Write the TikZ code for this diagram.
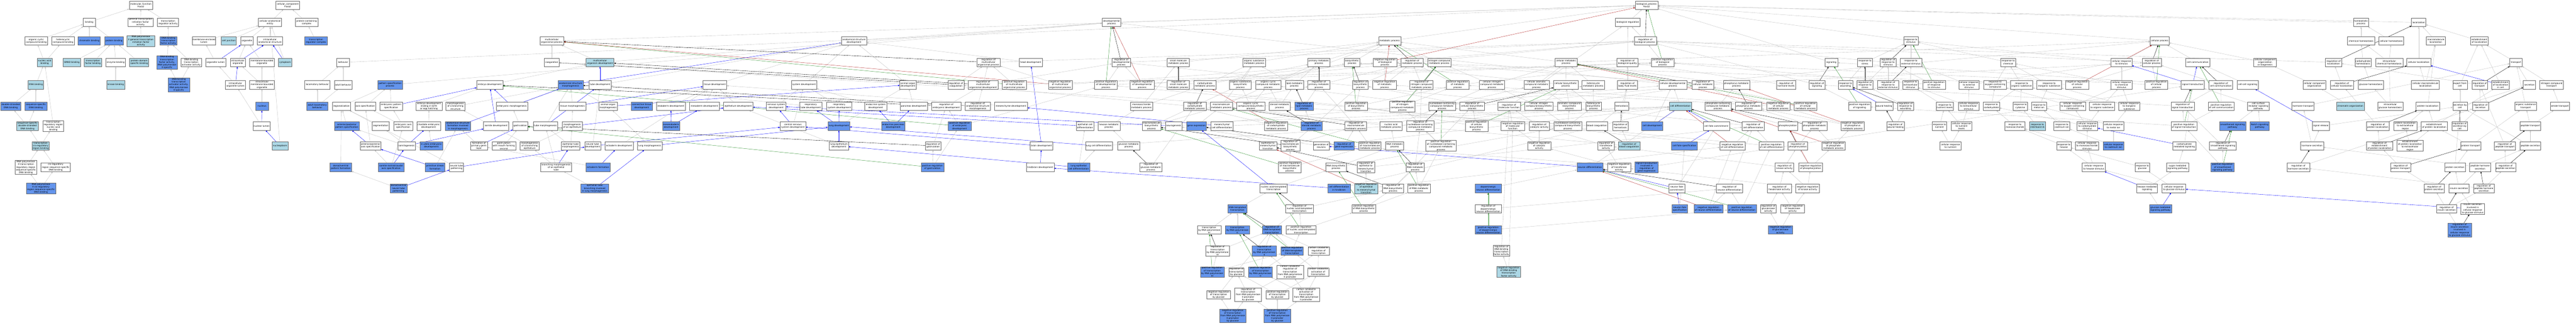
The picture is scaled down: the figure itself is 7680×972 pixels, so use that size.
\documentclass[tikz,border=0pt]{standalone}
\usepackage{fontspec}
\newfontfamily\gofamily{DejaVu Sans}
\usetikzlibrary{arrows.meta}
\pgfdeclarelayer{paper}
\pgfdeclarelayer{bg}
\pgfsetlayers{paper,bg,main}
\definecolor{cblue}{HTML}{6495ED}
\definecolor{lblue}{HTML}{ADD8E6}
\definecolor{egray}{HTML}{C0C0C0}
\definecolor{eblue}{HTML}{0000FF}
\definecolor{egreen}{HTML}{228B22}
\definecolor{ered}{HTML}{B22222}
\newcommand\GN[6]{\node[#1,minimum width=#5pt] (#2) at (#3,#4) {#6};}
\newcommand\GE[3]{\draw[#1] (#2) -- (#3);}
\tikzset{
  gn/.style={draw=black!60,line width=0.8pt,rectangle,align=center,inner xsep=1pt,inner ysep=1pt,minimum height=25pt,font={\gofamily\fontsize{6.6}{8}\selectfont},text=black},
  nwh/.style={gn,fill=white},
  ncb/.style={gn,fill=cblue},
  nlb/.style={gn,fill=lblue},
  ebase/.style={line width=0.6pt,-{Triangle[length=5pt,width=4pt]}},
  eg/.style={ebase,draw=egray},
  eb/.style={ebase,draw=eblue},
  ek/.style={ebase,draw=black},
  en/.style={ebase,draw=egreen},
  er/.style={ebase,draw=ered}
}
\begin{document}
\begin{tikzpicture}[x=1pt,y=-1pt]
\begin{pgfonlayer}{paper}
\fill[white] (0,0) rectangle (7680,972);
\end{pgfonlayer}
\path[use as bounding box] (0,0) rectangle (7680,972);
% ---------------- molecular function
\GN{nwh}{mf}{420}{15.5}{69}{molecular\_function\\Foxa2}
\GN{nwh}{bind}{266}{66}{38}{binding}
\GN{nwh}{gtif}{419}{66}{74}{general transcription\\initiation factor\\activity}
\GN{nwh}{tra}{501}{67}{63}{transcription\\regulator activity}
\GN{nwh}{occb}{108}{122}{67}{organic cyclic\\compound binding}
\GN{nwh}{hcb}{188}{122}{67}{heterocyclic\\compound binding}
\GN{ncb}{chb}{266}{122}{66}{chromatin binding}
\GN{ncb}{pb}{340}{122}{55}{protein binding}
\GN{nlb}{rpgt}{420}{122}{82}{RNA polymerase\\II general transcription\\initiation factor\\activity}
\GN{ncb}{dbtf}{502}{122}{51}{DNA-binding\\transcription\\factor activity}
\GN{nwh}{mel}{608}{122}{70}{membrane-enclosed\\lumen}
\GN{nlb}{nab}{133}{186}{44}{nucleic acid\\binding}
\GN{nlb}{smad}{214}{186}{51}{SMAD binding}
\GN{nlb}{tfb}{277}{186}{51}{transcription\\factor binding}
\GN{nwh}{enzb}{345}{186}{58}{enzyme binding}
\GN{nlb}{pdsb}{415}{186}{57}{protein domain\\specific binding}
\GN{ncb}{dbtf2}{498}{186}{61}{DNA-binding\\transcription\\factor activity,\\RNA polymerase\\II-specific}
\GN{nwh}{dbta}{570}{186}{62}{DNA-binding\\transcription\\activator activity}
\GN{nwh}{orgl}{643}{186}{60}{organelle lumen}
\GN{nlb}{dnab}{107}{253}{46}{DNA binding}
\GN{nlb}{kinb}{345}{253}{53}{kinase binding}
\GN{ncb}{dbta2}{533}{253}{64}{DNA-binding\\transcription\\activator activity,\\RNA polymerase\\II-specific}
\GN{ncb}{dsdb}{32}{317}{60}{double-stranded\\DNA binding}
\GN{ncb}{ssdb}{107}{317}{65}{sequence-specific\\DNA binding}
\GN{nlb}{ssds}{82}{376}{65}{sequence-specific\\double-stranded\\DNA binding}
\GN{nwh}{trrn}{159}{376}{62}{transcription\\regulatory region\\nucleic acid\\binding}
\GN{nlb}{tcrb}{121}{435}{52}{transcription\\cis-regulatory\\region binding}
\GN{nwh}{rp2t}{77}{499}{65}{RNA polymerase\\II transcription\\regulatory region\\sequence-specific\\DNA binding}
\GN{nwh}{crss}{166}{499}{88}{cis-regulatory\\region sequence-specific\\DNA binding}
\GN{ncb}{rp2c}{122}{562}{88}{RNA polymerase\\II cis-regulatory\\region sequence-specific\\DNA binding}
% ---------------- cellular component
\GN{nwh}{cc}{858}{15.5}{71}{cellular\_component\\Foxa2}
\GN{nwh}{cae}{805}{67}{69}{cellular anatomical\\entity}
\GN{nwh}{pcc}{914}{67}{67}{protein-containing\\complex}
\GN{nlb}{cj}{682}{122}{45}{cell junction}
\GN{nwh}{org}{736}{122}{38}{organelle}
\GN{nwh}{ias}{805}{122}{75}{intracellular\\anatomical structure}
\GN{ncb}{trc}{942}{122}{67}{transcription\\regulator complex}
\GN{nwh}{io}{709}{186}{44}{intracellular\\organelle}
\GN{nwh}{mbo}{781}{186}{74}{membrane-bounded\\organelle}
\GN{nlb}{cyto}{850}{186}{40}{cytoplasm}
\GN{nwh}{iol}{702}{253}{60}{intracellular\\organelle lumen}
\GN{nwh}{imbo}{781}{253}{74}{intracellular\\membrane-bounded\\organelle}
\GN{ncb}{nuc}{781}{317}{38}{nucleus}
\GN{nwh}{nl}{780}{376}{52}{nuclear lumen}
\GN{nlb}{np}{835}{435}{47}{nucleoplasm}
% ---------------- behaviour, pattern
\GN{nwh}{beh}{1023}{186}{39}{behavior}
\GN{nwh}{lb}{946}{253}{75}{locomotory behavior}
\GN{nwh}{ab}{1023}{253}{53}{adult behavior}
\GN{ncb}{psp}{1163}{253}{73}{pattern specification\\process}
\GN{ncb}{alb}{946}{317}{62}{adult locomotory\\behavior}
\GN{nwh}{reg}{1018}{317}{54}{regionalization}
\GN{nwh}{axs}{1089}{317}{62}{axis specification}
\GN{nwh}{eps}{1166}{317}{67}{embryonic pattern\\specification}
\GN{nwh}{edeb}{1279}{317}{78}{embryo development\\ending in birth\\or egg hatching}
\GN{ncb}{apps}{1034}{376}{73}{anterior/posterior\\pattern specification}
\GN{nwh}{seg}{1135}{376}{50}{segmentation}
\GN{nwh}{eas}{1202}{376}{56}{embryonic axis\\specification}
\GN{nwh}{ced}{1278}{376}{71}{chordate embryonic\\development}
\GN{nwh}{apas}{1105}{435}{62}{anterior/posterior\\axis specification}
\GN{nwh}{somg}{1212}{435}{53}{somitogenesis}
\GN{ncb}{iued}{1286}{435}{68}{in utero embryonic\\development}
\GN{ncb}{dvpf}{1016}{499}{64}{dorsal/ventral\\pattern formation}
\GN{ncb}{srca}{1166}{499}{76}{somite rostral/caudal\\axis specification}
\GN{ncb}{psf}{1297}{499}{58}{primitive streak\\formation}
\GN{ncb}{dvnt}{1188}{562}{51}{dorsal/ventral\\neural tube\\patterning}
% ---------------- development
\GN{nwh}{mop}{1645}{122}{71}{multicellular\\organismal process}
\GN{nwh}{coag}{1645}{186}{44}{coagulation}
\GN{nlb}{mod}{1789}{186}{83}{multicellular\\organism development}
\GN{nwh}{ed}{1460}{253}{78}{embryo development}
\GN{ncb}{asm}{1701}{253}{75}{anatomical structure\\morphogenesis}
\GN{nwh}{td}{1789}{253}{66}{tube development}
\GN{nwh}{mbs}{1358}{317}{57}{morphogenesis\\of a branching\\structure}
\GN{nwh}{em}{1526}{317}{93}{embryonic morphogenesis}
\GN{nwh}{tm}{1707}{317}{79}{tissue morphogenesis}
\GN{nwh}{aom}{1813}{317}{56}{animal organ\\morphogenesis}
\GN{ncb}{ctd}{1913}{317}{63}{connective tissue\\development}
\GN{ncb}{asf}{1365}{376}{74}{anatomical structure\\formation involved\\in morphogenesis}
\GN{nwh}{sd}{1479}{376}{75}{somite development}
\GN{nwh}{gast}{1551}{376}{44}{gastrulation}
\GN{nwh}{tubm}{1626}{376}{73}{tube morphogenesis}
\GN{nwh}{moe}{1706}{376}{60}{morphogenesis\\of an epithelium}
\GN{nwh}{fpgl}{1428}{435}{50}{formation of\\primary germ\\layer}
\GN{nwh}{gmfs}{1502}{435}{71}{gastrulation\\with mouth forming\\second}
\GN{nwh}{mbe}{1579}{435}{57}{morphogenesis\\of a branching\\epithelium}
\GN{nwh}{etm}{1701}{435}{56}{epithelial tube\\morphogenesis}
\GN{nwh}{ntd}{1767}{435}{48}{neural tube\\development}
\GN{nwh}{ecd}{1846}{435}{84}{ectoderm development}
\GN{nwh}{lm}{1937}{435}{74}{lung morphogenesis}
\GN{nwh}{ntp}{1361}{499}{42}{neural tube\\patterning}
\GN{nwh}{bmet}{1658}{499}{92}{branching morphogenesis\\of an epithelial\\tube}
\GN{ncb}{ecf}{1783}{499}{72}{ectoderm formation}
\GN{ncb}{etbl}{1773}{562}{82}{epithelial tube\\branching involved\\in lung morphogenesis}
\GN{nwh}{asd}{2546}{122}{75}{anatomical structure\\development}
\GN{nwh}{tisd}{2131}{253}{71}{tissue development}
\GN{nwh}{sysd}{2397}{253}{76}{system development}
\GN{nwh}{endd}{2000}{317}{86}{endoderm development}
\GN{nwh}{mesd}{2100}{317}{88}{mesoderm development}
\GN{nwh}{epid}{2201}{317}{88}{epithelium development}
\GN{nwh}{nsd}{2314}{317}{58}{nervous system\\development}
\GN{nwh}{rtd}{2417}{317}{66}{respiratory\\tube development}
\GN{nwh}{rsd}{2502}{317}{76}{respiratory\\system development}
\GN{ncb}{mendd}{2001}{376}{52}{mesendoderm\\development}
\GN{nwh}{cnsd}{2364}{376}{76}{central nervous\\system development}
\GN{ncb}{ld}{2501}{376}{65}{lung development}
\GN{nwh}{led}{2501}{435}{57}{lung epithelium\\development}
\GN{nwh}{devp}{3314}{67}{55}{developmental\\process}
\GN{nwh}{rmop}{2947}{186}{70}{regulation of\\multicellular\\organismal process}
\GN{nwh}{hd}{3073}{186}{68}{head development}
\GN{nwh}{aod}{2707}{253}{49}{animal organ\\development}
\GN{nwh}{rcoag}{2850}{253}{47}{regulation of\\coagulation}
\GN{nwh}{rmod}{2931}{253}{89}{regulation of\\multicellular\\organismal development}
\GN{nwh}{prmop}{3024}{253}{71}{positive regulation\\of multicellular\\organismal process}
\GN{nwh}{nrmop}{3161}{253}{71}{negative regulation\\of multicellular\\organismal process}
\GN{nwh}{prdp}{3297}{253}{67}{positive regulation\\of developmental\\process}
\GN{nwh}{esd}{2611}{317}{65}{endocrine system\\development}
\GN{nwh}{pand}{2724}{317}{82}{pancreas development}
\GN{nwh}{red}{2821}{317}{87}{regulation of\\embryonic development}
\GN{nwh}{rasm}{2915}{317}{75}{regulation of\\anatomical structure\\morphogenesis}
\GN{nwh}{mesch}{3014}{317}{98}{mesenchyme development}
\GN{ncb}{epd}{2663}{376}{70}{endocrine pancreas\\development}
\GN{ncb}{pred}{2861}{376}{68}{positive regulation\\of embryonic\\development}
\GN{nwh}{ecd2}{3235}{376}{53}{epithelial cell\\differentiation}
\GN{nwh}{hexmp}{3306}{376}{66}{hexose metabolic\\process}
\GN{nwh}{rgast}{2782}{435}{47}{regulation of\\gastrulation}
\GN{nwh}{bd}{3105}{435}{68}{brain development}
\GN{nwh}{lcd}{3276}{435}{80}{lung cell differentiation}
\GN{ncb}{prgast}{2780}{499}{68}{positive regulation\\of gastrulation}
\GN{nwh}{hbd}{3101}{499}{83}{hindbrain development}
\GN{ncb}{lecd}{3216}{499}{66}{lung epithelial\\cell differentiation}
% ---------------- metabolism
\GN{nwh}{rdp}{3343}{186}{56}{regulation of\\developmental\\process}
\GN{nwh}{smmp}{3513}{186}{66}{small molecule\\metabolic process}
\GN{nwh}{osmp}{3739}{186}{67}{organic substance\\metabolic process}
\GN{nwh}{pmp}{3932}{186}{66}{primary metabolic\\process}
\GN{nwh}{nrdp}{3405}{253}{71}{negative regulation\\of developmental\\process}
\GN{nwh}{rsmmp}{3513}{253}{66}{regulation of\\small molecule\\metabolic process}
\GN{nwh}{cmp}{3592}{253}{66}{carbohydrate\\metabolic process}
\GN{nwh}{osbp}{3698}{253}{65}{organic substance\\biosynthetic\\process}
\GN{nwh}{occmp}{3781}{253}{75}{organic cyclic\\compound metabolic\\process}
\GN{nwh}{lmp}{3859}{253}{54}{lipid metabolic\\process}
\GN{nwh}{rpmp}{3932}{253}{66}{regulation of\\primary metabolic\\process}
\GN{nwh}{msmp}{3403}{317}{66}{monosaccharide\\metabolic process}
\GN{nwh}{rcmp}{3562}{317}{67}{regulation of\\carbohydrate\\metabolic process}
\GN{nwh}{mmp}{3641}{317}{66}{macromolecule\\metabolic process}
\GN{nwh}{occbp}{3729}{317}{84}{organic cyclic\\compound biosynthetic\\process}
\GN{nwh}{stmp}{3815}{317}{63}{steroid metabolic\\process}
\GN{ncb}{rlmp}{3888}{317}{54}{regulation of\\lipid metabolic\\process}
\GN{nwh}{mbp}{3433}{376}{56}{macromolecule\\biosynthetic\\process}
\GN{nwh}{neurog}{3499}{376}{49}{neurogenesis}
\GN{ncb}{ge}{3567}{376}{59}{gene expression}
\GN{nwh}{mcd}{3643}{376}{65}{mesenchymal\\cell differentiation}
\GN{nwh}{nrcmp}{3804}{376}{70}{negative regulation\\of carbohydrate\\metabolic process}
\GN{ncb}{rstmp}{3910}{376}{63}{regulation of\\steroid metabolic\\process}
\GN{nwh}{gmp}{3365}{435}{66}{glucose metabolic\\process}
\GN{nwh}{emt}{3780}{435}{52}{epithelial to\\mesenchymal\\transition}
\GN{nwh}{rmbp}{3847}{435}{56}{regulation of\\macromolecule\\biosynthetic\\process}
\GN{nwh}{gon}{3939}{435}{48}{generation of\\neurons}
\GN{ncb}{rge}{4007}{435}{60}{regulation of\\gene expression}
\GN{nwh}{rgmp}{3431}{499}{66}{regulation of\\glucose metabolic\\process}
\GN{nwh}{prmbp}{3845}{499}{68}{positive regulation\\of macromolecule\\biosynthetic\\process}
\GN{nwh}{rnabp}{3983}{499}{62}{RNA biosynthetic\\process}
\GN{ncb}{cdh}{3992}{562}{67}{cell differentiation\\in hindbrain}
\GN{nwh}{nat}{3797}{562}{81}{nucleic acid-templated\\transcription}
\GN{ncb}{dtt}{3689}{623}{57}{DNA-templated\\transcription}
\GN{nwh}{rnat}{3874}{623}{82}{regulation of\\nucleic acid-templated\\transcription}
\GN{nwh}{t3}{3605}{686}{71}{transcription\\by RNA polymerase\\III}
\GN{ncb}{t2}{3689}{686}{71}{transcription\\by RNA polymerase\\II}
\GN{ncb}{rdt}{3792}{686}{56}{regulation of\\DNA-templated\\transcription}
\GN{nwh}{prnat}{3879}{686}{90}{positive regulation\\of nucleic acid-templated\\transcription}
\GN{nwh}{rt3}{3630}{748}{71}{regulation of\\transcription\\by RNA polymerase\\III}
\GN{ncb}{rt2}{3769}{748}{71}{regulation of\\transcription\\by RNA polymerase\\II}
\GN{ncb}{prdt}{3852}{748}{66}{positive regulation\\of DNA-templated\\transcription}
\GN{nwh}{ccrt}{3931}{748}{63}{carbon catabolite\\regulation of\\transcription}
\GN{ncb}{prt3}{3614}{811}{71}{positive regulation\\of transcription\\by RNA polymerase\\III}
\GN{nwh}{rtg}{3686}{811}{46}{regulation of\\transcription\\by glucose}
\GN{ncb}{prt2}{3758}{811}{71}{positive regulation\\of transcription\\by RNA polymerase\\II}
\GN{nwh}{ccrp}{3846}{811}{80}{carbon catabolite\\regulation of\\transcription\\from RNA polymerase\\II promoter}
\GN{nwh}{ccat}{3930}{811}{63}{carbon catabolite\\activation of\\transcription}
\GN{nwh}{nrtg}{3633}{879}{70}{negative regulation\\of transcription\\by glucose}
\GN{nwh}{rtpg}{3721}{879}{80}{regulation of\\transcription\\from RNA polymerase\\II promoter\\by glucose}
\GN{nwh}{prtg}{3808}{879}{68}{positive regulation\\of transcription\\by glucose}
\GN{nwh}{ccap}{3894}{879}{80}{carbon catabolite\\activation of\\transcription\\from RNA polymerase\\II promoter}
\GN{ncb}{nrtpg}{3675}{942}{79}{negative regulation\\of transcription\\from RNA polymerase\\II promoter\\by glucose}
\GN{ncb}{prtpg}{3808}{942}{79}{positive regulation\\of transcription\\from RNA polymerase\\II promoter\\by glucose}
\GN{nwh}{metp}{4143}{122}{66}{metabolic process}
\GN{nwh}{bsp}{4031}{186}{46}{biosynthetic\\process}
\GN{nwh}{nrbp}{4129}{186}{70}{negative regulation\\of biological\\process}
\GN{nwh}{rmp}{4210}{186}{66}{regulation of\\metabolic process}
\GN{nwh}{ncmp}{4291}{186}{69}{nitrogen compound\\metabolic process}
\GN{nwh}{cellmp}{4669}{186}{65}{cellular metabolic\\process}
\GN{nwh}{rbsp}{4056}{253}{46}{regulation of\\biosynthetic\\process}
\GN{nwh}{nrmp}{4128}{253}{70}{negative regulation\\of metabolic\\process}
\GN{nwh}{rncmp}{4238}{253}{69}{regulation of\\nitrogen compound\\metabolic process}
\GN{nwh}{prmp}{4346}{253}{68}{positive regulation\\of metabolic\\process}
\GN{nwh}{cncmp}{4448}{253}{75}{cellular nitrogen\\compound metabolic\\process}
\GN{nwh}{cacmp}{4581}{253}{75}{cellular aromatic\\compound metabolic\\process}
\GN{nwh}{cbsp}{4668}{253}{73}{cellular biosynthetic\\process}
\GN{nwh}{hetmp}{4750}{253}{67}{heterocycle\\metabolic process}
\GN{nwh}{prbsp}{4043}{317}{68}{positive regulation\\of biosynthetic\\process}
\GN{nwh}{prncmp}{4181}{317}{75}{positive regulation\\of nitrogen\\compound metabolic\\process}
\GN{nwh}{nbcmp}{4299}{317}{80}{nucleobase-containing\\compound metabolic\\process}
\GN{nwh}{rcbsp}{4389}{317}{73}{regulation of\\cellular biosynthetic\\process}
\GN{nwh}{rmf}{4499}{317}{67}{regulation of\\molecular function}
\GN{nwh}{cncbp}{4588}{317}{84}{cellular nitrogen\\compound biosynthetic\\process}
\GN{nwh}{acbp}{4679}{317}{71}{aromatic compound\\biosynthetic\\process}
\GN{nwh}{hetbp}{4751}{317}{46}{heterocycle\\biosynthetic\\process}
\GN{nwh}{rmmp}{4042}{376}{65}{regulation of\\macromolecule\\metabolic process}
\GN{nwh}{namp}{4147}{376}{65}{nucleic acid\\metabolic process}
\GN{nwh}{rnbcmp}{4234}{376}{81}{regulation of\\nucleobase-containing\\compound metabolic\\process}
\GN{nwh}{prcbsp}{4402}{376}{68}{positive regulation\\of cellular\\biosynthetic\\process}
\GN{nwh}{nrmf}{4510}{376}{70}{negative regulation\\of molecular\\function}
\GN{nwh}{rca}{4589}{376}{60}{regulation of\\catalytic activity}
\GN{nwh}{nbcbp}{4674}{376}{83}{nucleobase-containing\\compound biosynthetic\\process}
\GN{nwh}{bc}{4761}{376}{64}{blood coagulation}
\GN{nwh}{prmmp}{4084}{435}{66}{positive regulation\\of macromolecule\\metabolic process}
\GN{nwh}{rnamp}{4158}{435}{54}{RNA metabolic\\process}
\GN{nwh}{prnbcmp}{4296}{435}{91}{positive regulation\\of nucleobase-containing\\compound metabolic\\process}
\GN{nwh}{nrca}{4589}{435}{70}{negative regulation\\of catalytic\\activity}
\GN{nwh}{remt}{4072}{499}{52}{regulation of\\epithelial to\\mesenchymal\\transition}
\GN{nwh}{rrnamp}{4219}{499}{54}{regulation of\\RNA metabolic\\process}
\GN{ncb}{neud}{4740}{499}{77}{neuron differentiation}
\GN{nlb}{nremt}{4073}{562}{70}{negative regulation\\of epithelial\\to mesenchymal\\transition}
\GN{nwh}{rrnabp}{4153}{562}{62}{regulation of\\RNA biosynthetic\\process}
\GN{nwh}{prrnamp}{4230}{562}{68}{positive regulation\\of RNA metabolic\\process}
\GN{ncb}{dnd}{4437}{562}{78}{dopaminergic\\neuron differentiation}
\GN{nwh}{prrnabp}{4066}{623}{71}{positive regulation\\of RNA biosynthetic\\process}
\GN{nwh}{rdnd}{4437}{623}{78}{regulation of\\dopaminergic\\neuron differentiation}
\GN{ncb}{prdnd}{4437}{686}{78}{positive regulation\\of dopaminergic\\neuron differentiation}
\GN{nwh}{rdbtf}{4476}{748}{50}{regulation of\\DNA-binding\\transcription\\factor activity}
\GN{nlb}{nrdbtf}{4498}{811}{70}{negative regulation\\of DNA-binding\\transcription\\factor activity}
% ---------------- biological process root area
\GN{nwh}{bp}{4909}{15.5}{67}{biological\_process\\Foxa2}
\GN{nwh}{breg}{4853}{67}{74}{biological regulation}
\GN{nwh}{rbp}{4905}{122}{66}{regulation of\\biological process}
\GN{nwh}{rbq}{4852}{186}{62}{regulation of\\biological quality}
\GN{nwh}{prbp}{4957}{186}{68}{positive regulation\\of biological\\process}
\GN{nwh}{sig}{5460}{186}{39}{signaling}
\GN{nwh}{rbfl}{4852}{253}{60}{regulation of\\body fluid levels}
\GN{nwh}{cdp}{4987}{253}{83}{cellular developmental\\process}
\GN{nwh}{rcellmp}{5077}{253}{64}{regulation of\\cellular metabolic\\process}
\GN{nwh}{phmp}{5177}{253}{79}{phosphorus metabolic\\process}
\GN{nwh}{rhl}{5325}{253}{56}{regulation of\\hormone levels}
\GN{nwh}{rsig}{5417}{253}{47}{regulation of\\signaling}
\GN{nwh}{rtw}{5502}{253}{43}{response to\\wounding}
\GN{nwh}{hemo}{4835}{317}{42}{hemostasis}
\GN{nlb}{celld}{5010}{317}{66}{cell differentiation}
\GN{nwh}{pccmp}{5122}{317}{78}{phosphate-containing\\compound metabolic\\process}
\GN{nwh}{rphmp}{5213}{317}{79}{regulation of\\phosphorus metabolic\\process}
\GN{nwh}{nrcellmp}{5302}{317}{70}{negative regulation\\of cellular\\metabolic process}
\GN{nwh}{prcellmp}{5383}{317}{68}{positive regulation\\of cellular\\metabolic process}
\GN{nwh}{rhemo}{4831}{376}{47}{regulation of\\hemostasis}
\GN{ncb}{celldev}{4926}{376}{63}{cell development}
\GN{nwh}{cfc}{5117}{376}{78}{cell fate commitment}
\GN{nwh}{rcd}{5227}{376}{66}{regulation of\\cell differentiation}
\GN{nwh}{phos}{5330}{376}{58}{phosphorylation}
\GN{nwh}{rpmp2}{5410}{376}{75}{regulation of\\phosphate metabolic\\process}
\GN{nwh}{nrphmp}{5523}{376}{70}{negative regulation\\of phosphorus\\metabolic process}
\GN{nwh}{rta}{4788}{435}{48}{regulation of\\transferase\\activity}
\GN{nlb}{rbc}{4857}{435}{65}{regulation of\\blood coagulation}
\GN{ncb}{cfs}{5022}{435}{77}{cell fate specification}
\GN{nwh}{nrcd}{5165}{435}{75}{negative regulation\\of cell differentiation}
\GN{nwh}{prcd}{5281}{435}{75}{positive regulation\\of cell differentiation}
\GN{nwh}{rphos}{5360}{435}{58}{regulation of\\phosphorylation}
\GN{nwh}{nrpmp2}{5466}{435}{70}{negative regulation\\of phosphate\\metabolic process}
\GN{nwh}{nrta}{4827}{499}{70}{negative regulation\\of transferase\\activity}
\GN{ncb}{strge}{4909}{499}{69}{signal transduction\\involved in\\regulation of\\gene expression}
\GN{nwh}{rka}{5320}{499}{55}{regulation of\\kinase activity}
\GN{nwh}{nrphos}{5398}{499}{70}{negative regulation\\of phosphorylation}
\GN{nwh}{nfc}{4999}{562}{48}{neuron fate\\commitment}
\GN{nwh}{rnd}{5156}{562}{78}{regulation of\\neuron differentiation}
\GN{nwh}{rhka}{5305}{562}{71}{regulation of\\hexokinase activity}
\GN{nwh}{nrka}{5389}{562}{71}{negative regulation\\of kinase activity}
\GN{ncb}{nfs}{5008}{623}{46}{neuron fate\\specification}
\GN{ncb}{nrnd}{5093}{623}{86}{negative regulation\\of neuron differentiation}
\GN{ncb}{prnd}{5193}{623}{86}{positive regulation\\of neuron differentiation}
\GN{nwh}{rgka}{5272}{623}{47}{regulation of\\glucokinase\\activity}
\GN{nwh}{nrhka}{5344}{623}{71}{negative regulation\\of hexokinase\\activity}
\GN{ncb}{nrgka}{5308}{686}{71}{negative regulation\\of glucokinase\\activity}
% ---------------- response to stimulus
\GN{nwh}{rstim}{5697}{122}{43}{response to\\stimulus}
\GN{nwh}{cellp}{6439}{122}{57}{cellular process}
\GN{nwh}{rstr}{5560}{186}{44}{response to\\stress}
\GN{nwh}{rrs}{5629}{186}{47}{regulation of\\response to\\stimulus}
\GN{nwh}{res}{5697}{186}{64}{response to\\external stimulus}
\GN{nwh}{rchem}{5987}{186}{44}{response to\\chemical}
\GN{nwh}{crs}{6325}{186}{62}{cellular response\\to stimulus}
\GN{nwh}{rcp}{6415}{186}{57}{regulation of\\cellular process}
\GN{nwh}{ccom}{6552}{186}{71}{cell communication}
\GN{nwh}{rrstr}{5560}{253}{47}{regulation of\\response to\\stress}
\GN{nwh}{rres}{5629}{253}{63}{regulation of\\response to\\external stimulus}
\GN{nwh}{rexs}{5696}{253}{45}{response to\\extracellular\\stimulus}
\GN{nwh}{prrs}{5766}{253}{67}{positive regulation\\of response\\to stimulus}
\GN{nwh}{cres}{5870}{253}{60}{cellular response\\to external\\stimulus}
\GN{nwh}{rocc}{5948}{253}{67}{response to\\oxygen-containing\\compound}
\GN{nwh}{ros}{6027}{253}{66}{response to\\organic substance}
\GN{nwh}{ris}{6109}{253}{73}{response to\\inorganic substance}
\GN{nwh}{nrcp}{6193}{253}{70}{negative regulation\\of cellular\\process}
\GN{nwh}{crcs}{6325}{253}{62}{cellular response\\to chemical\\stimulus}
\GN{nwh}{prcp}{6429}{253}{68}{positive regulation\\of cellular\\process}
\GN{nwh}{st}{6537}{253}{69}{signal transduction}
\GN{nwh}{prsig}{5544}{317}{66}{positive regulation\\of signaling}
\GN{nwh}{wh}{5617}{317}{52}{wound healing}
\GN{nwh}{rrw}{5681}{317}{47}{regulation of\\response to\\wounding}
\GN{nwh}{rnl}{5798}{317}{52}{response to\\nutrient levels}
\GN{nwh}{cress}{5869}{317}{62}{cellular response\\to extracellular\\stimulus}
\GN{nwh}{rcarb}{5937}{317}{48}{response to\\carbohydrate}
\GN{nwh}{rcyt}{6023}{317}{43}{response to\\cytokine}
\GN{nwh}{rmi}{6079}{317}{44}{response to\\metal ion}
\GN{nwh}{crocc}{6179}{317}{77}{cellular response\\to oxygen-containing\\compound}
\GN{nwh}{cros}{6267}{317}{75}{cellular response\\to organic substance}
\GN{nwh}{cris}{6348}{317}{62}{cellular response\\to inorganic\\substance}
\GN{nwh}{rst}{6507}{317}{69}{regulation of\\signal transduction}
\GN{nwh}{rwh}{5651}{376}{52}{regulation of\\wound healing}
\GN{nwh}{rnut}{5782}{376}{43}{response to\\nutrient}
\GN{nwh}{crnl}{5848}{376}{62}{cellular response\\to nutrient\\levels}
\GN{nwh}{rmono}{6007}{376}{59}{response to\\monosaccharide}
\GN{nlb}{ril6}{6074}{376}{47}{response to\\interleukin-6}
\GN{nwh}{rcad}{6147}{376}{48}{response to\\cadmium ion}
\GN{nwh}{crcarb}{6223}{376}{62}{cellular response\\to carbohydrate\\stimulus}
\GN{nwh}{crmi}{6301}{376}{62}{cellular response\\to metal ion}
\GN{nwh}{prst}{6511}{376}{77}{positive regulation\\of signal transduction}
\GN{nwh}{crnut}{5815}{435}{62}{cellular response\\to nutrient}
\GN{nwh}{rhex}{6153}{435}{43}{response to\\hexose}
\GN{nwh}{crmono}{6222}{435}{69}{cellular response\\to monosaccharide\\stimulus}
\GN{ncb}{crcad}{6301}{435}{62}{cellular response\\to cadmium ion}
\GN{nwh}{cms}{6512}{435}{69}{carbohydrate\\mediated signaling}
\GN{nwh}{crhex}{6242}{499}{68}{cellular response\\to hexose stimulus}
\GN{nwh}{rglu}{6387}{499}{43}{response to\\glucose}
\GN{nwh}{smsp}{6492}{499}{66}{sugar mediated\\signaling pathway}
\GN{nwh}{hms}{6401}{562}{62}{hexose mediated\\signaling}
\GN{nwh}{crglu}{6481}{562}{71}{cellular response\\to glucose stimulus}
\GN{ncb}{gmsp}{6441}{623}{66}{glucose mediated\\signaling pathway}
% ---------------- localization, homeostasis
\GN{nwh}{homeo}{7039}{67}{45}{homeostatic\\process}
\GN{nwh}{loc}{7211}{67}{43}{localization}
\GN{nwh}{chemh}{7039}{122}{80}{chemical homeostasis}
\GN{nwh}{cellh}{7129}{122}{75}{cellular homeostasis}
\GN{nwh}{mloc}{7262}{122}{56}{macromolecule\\localization}
\GN{nwh}{eloc}{7392}{122}{52}{establishment\\of localization}
\GN{nwh}{ccob}{6753}{186}{68}{cellular component\\organization\\or biogenesis}
\GN{nwh}{rloc}{6957}{186}{48}{regulation of\\localization}
\GN{nwh}{carbh}{7045}{186}{48}{carbohydrate\\homeostasis}
\GN{nwh}{icch}{7123}{186}{81}{intracellular\\chemical homeostasis}
\GN{nwh}{cloc}{7211}{186}{71}{cellular localization}
\GN{nwh}{transp}{7501}{186}{37}{transport}
\GN{nwh}{rcc}{6621}{253}{71}{regulation of\\cell communication}
\GN{nwh}{ccs}{6701}{253}{64}{cell-cell signaling}
\GN{nwh}{cco}{6900}{253}{69}{cellular component\\organization}
\GN{nwh}{rcloc}{6982}{253}{70}{regulation of\\cellular localization}
\GN{nwh}{gh}{7068}{253}{75}{glucose homeostasis}
\GN{nwh}{cmloc}{7231}{253}{83}{cellular macromolecule\\localization}
\GN{nwh}{efc}{7334}{253}{43}{export from\\cell}
\GN{nwh}{rtr}{7393}{253}{46}{regulation of\\transport}
\GN{nwh}{elc}{7455}{253}{52}{establishment\\of localization\\in cell}
\GN{nwh}{secr}{7541}{253}{37}{secretion}
\GN{nwh}{nct}{7607}{253}{71}{nitrogen compound\\transport}
\GN{nwh}{prcc}{6622}{317}{77}{positive regulation\\of cell communication}
\GN{nwh}{csrsp}{6733}{317}{65}{cell surface\\receptor signaling\\pathway}
\GN{nwh}{ht}{6866}{317}{66}{hormone transport}
\GN{nlb}{chro}{7007}{317}{83}{chromatin organization}
\GN{nwh}{igh}{7126}{317}{75}{intracellular\\glucose homeostasis}
\GN{nwh}{ploc}{7238}{317}{70}{protein localization}
\GN{nwh}{sbc}{7334}{317}{43}{secretion by\\cell}
\GN{nwh}{rsec}{7395}{317}{48}{regulation of\\secretion}
\GN{nwh}{ost}{7530}{317}{65}{organic substance\\transport}
\GN{nwh}{amt}{7632}{317}{57}{amide transport}
\GN{ncb}{ssp}{6656}{376}{78}{smoothened signaling\\pathway}
\GN{ncb}{nsp}{6737}{376}{57}{Notch signaling\\pathway}
\GN{nwh}{srel}{6919}{376}{50}{signal release}
\GN{nwh}{rploc}{7089}{376}{69}{regulation of\\protein localization}
\GN{nwh}{pler}{7171}{376}{69}{protein localization\\to extracellular\\region}
\GN{nwh}{epl}{7257}{376}{78}{establishment\\of protein localization}
\GN{nwh}{rsbc}{7333}{376}{47}{regulation of\\secretion by\\cell}
\GN{nwh}{pept}{7544}{376}{62}{peptide transport}
\GN{nwh}{rssp}{6627}{435}{80}{regulation of\\smoothened signaling\\pathway}
\GN{nwh}{hs}{6893}{435}{68}{hormone secretion}
\GN{nwh}{repl}{7094}{435}{79}{regulation of\\establishment\\of protein localization}
\GN{nwh}{eplr}{7185}{435}{78}{establishment\\of protein localization\\to extracellular\\region}
\GN{nwh}{pt}{7366}{435}{61}{protein transport}
\GN{nwh}{rpt}{7468}{435}{63}{regulation of\\peptide transport}
\GN{nwh}{ps}{7544}{435}{62}{peptide secretion}
\GN{ncb}{prssp}{6626}{499}{68}{positive regulation\\of smoothened\\signaling pathway}
\GN{nwh}{rhs}{6852}{499}{67}{regulation of\\hormone secretion}
\GN{nwh}{rprt}{7157}{499}{60}{regulation of\\protein transport}
\GN{nwh}{psec}{7319}{499}{62}{protein secretion}
\GN{nwh}{phs}{7394}{499}{62}{peptide hormone\\secretion}
\GN{nwh}{rps}{7470}{499}{60}{regulation of\\peptide secretion}
\GN{nwh}{rpsec}{7257}{562}{60}{regulation of\\protein secretion}
\GN{nwh}{ins}{7331}{562}{59}{insulin secretion}
\GN{nwh}{rphs}{7405}{562}{62}{regulation of\\peptide hormone\\secretion}
\GN{nwh}{ris2}{7294}{623}{59}{regulation of\\insulin secretion}
\GN{nwh}{isgs}{7372}{623}{70}{insulin secretion\\involved in\\cellular response\\to glucose stimulus}
\GN{ncb}{risgs}{7333}{686}{71}{regulation of\\insulin secretion\\involved in\\cellular response\\to glucose stimulus}
% ================= edges
\begin{pgfonlayer}{bg}
% MF
\GE{eg}{bind}{mf}\GE{eg}{gtif}{mf}\GE{eg}{tra}{mf}
\GE{eg}{occb}{bind}\GE{eg}{hcb}{bind}\GE{eg}{chb}{bind}\GE{eg}{pb}{bind}
\GE{eg}{rpgt}{gtif}\GE{eg}{dbtf}{tra}
\GE{eg}{nab}{occb}\GE{eg}{nab}{hcb}
\GE{eg}{smad}{pb}\GE{eg}{tfb}{pb}\GE{eg}{enzb}{pb}\GE{eg}{pdsb}{pb}
\GE{eg}{dbtf2}{dbtf}\GE{eg}{dbta}{dbtf}\GE{eg}{kinb}{enzb}
\GE{eg}{dbta2}{dbtf2}\GE{eg}{dbta2}{dbta}
\GE{eg}{dnab}{nab}\GE{eg}{dsdb}{dnab}\GE{eg}{ssdb}{dnab}
\GE{eg}{ssds}{dsdb}\GE{eg}{ssds}{ssdb}\GE{eg}{trrn}{nab}
\GE{eg}{tcrb}{ssds}\GE{eg}{tcrb}{trrn}
\GE{eg}{rp2t}{tcrb}\GE{eg}{crss}{tcrb}
\GE{eg}{rp2c}{rp2t}\GE{eg}{rp2c}{crss}
% CC
\GE{eg}{cae}{cc}\GE{eg}{pcc}{cc}
\GE{eg}{mel}{cae}\GE{eg}{cj}{cae}\GE{eg}{org}{cae}\GE{eg}{ias}{cae}\GE{eg}{cyto}{cae}\GE{eg}{np}{cae}
\GE{eg}{trc}{pcc}
\GE{eb}{orgl}{org}\GE{eg}{orgl}{mel}
\GE{eg}{io}{org}\GE{eb}{io}{ias}\GE{eg}{mbo}{org}\GE{eb}{cyto}{ias}
\GE{eg}{iol}{orgl}\GE{eb}{iol}{io}
\GE{eg}{imbo}{mbo}\GE{eg}{imbo}{io}\GE{eg}{nuc}{imbo}
\GE{eg}{nl}{iol}\GE{eb}{nl}{nuc}\GE{eb}{np}{nl}
% behavior & pattern
\GE{eg}{beh}{bp}\GE{eg}{lb}{beh}\GE{eg}{ab}{beh}\GE{eg}{alb}{lb}\GE{eg}{alb}{ab}
\GE{eg}{psp}{devp}\GE{eg}{reg}{psp}\GE{eg}{axs}{psp}\GE{eg}{eps}{psp}\GE{eb}{eps}{ed}
\GE{eg}{edeb}{ed}\GE{eg}{ced}{edeb}\GE{eg}{iued}{ced}
\GE{eg}{apps}{reg}\GE{eg}{seg}{reg}\GE{eg}{eas}{axs}\GE{eg}{eas}{eps}
\GE{eb}{apas}{apps}\GE{eg}{apas}{axs}
\GE{eg}{somg}{seg}\GE{eg}{somg}{apps}\GE{eb}{somg}{ced}\GE{eb}{somg}{sd}
\GE{eg}{dvpf}{reg}\GE{eg}{srca}{apas}\GE{eb}{srca}{somg}\GE{eg}{srca}{eas}
\GE{eb}{psf}{apas}\GE{eg}{psf}{asf}
\GE{eg}{dvnt}{dvpf}\GE{eb}{dvnt}{ntp}\GE{eg}{ntp}{reg}
% development
\GE{eg}{mop}{bp}\GE{eg}{coag}{mop}\GE{eg}{mod}{mop}\GE{eg}{mod}{devp}
\GE{eg}{ed}{mod}\GE{eb}{asm}{asd}\GE{eg}{td}{asd}\GE{eb}{td}{mod}
\GE{eb}{em}{ed}\GE{eg}{em}{asm}\GE{eb}{sd}{ed}\GE{eg}{gast}{em}
\GE{eb}{asf}{asm}\GE{eb}{fpgl}{gast}\GE{eg}{fpgl}{asf}\GE{eg}{gmfs}{gast}
\GE{eg}{mbs}{asm}\GE{eg}{mbe}{mbs}\GE{eg}{mbe}{moe}
\GE{eg}{tm}{asm}\GE{eb}{tm}{tisd}\GE{eg}{aom}{asm}\GE{eb}{aom}{aod}
\GE{eg}{tubm}{asm}\GE{eb}{tubm}{td}\GE{eg}{moe}{tm}\GE{eb}{moe}{epid}
\GE{eg}{etm}{tubm}\GE{eg}{etm}{moe}
\GE{eg}{ntd}{td}\GE{eb}{ntd}{cnsd}\GE{eg}{ecd}{tisd}\GE{eg}{lm}{aom}\GE{eb}{lm}{ld}
\GE{eb}{ntp}{ntd}
\GE{eg}{bmet}{mbe}\GE{eg}{bmet}{tubm}\GE{eb}{bmet}{etm}
\GE{eb}{ecf}{ecd}\GE{eg}{ecf}{fpgl}
\GE{eg}{etbl}{bmet}\GE{eb}{etbl}{lm}
\GE{eg}{ctd}{tisd}\GE{eg}{asd}{devp}
\GE{eg}{tisd}{asd}\GE{eg}{sysd}{asd}
\GE{eg}{endd}{tisd}\GE{eg}{mesd}{tisd}\GE{eg}{epid}{tisd}
\GE{eb}{mendd}{endd}\GE{eb}{mendd}{mesd}
\GE{eg}{nsd}{sysd}\GE{eg}{rtd}{td}\GE{eg}{rsd}{sysd}
\GE{eb}{cnsd}{nsd}\GE{eg}{cnsd}{sysd}
\GE{eb}{ld}{rtd}\GE{eb}{ld}{rsd}\GE{eg}{ld}{aod}
\GE{eb}{led}{ld}\GE{eg}{led}{epid}
\GE{eg}{aod}{asd}\GE{eg}{pand}{aod}\GE{eg}{esd}{sysd}
\GE{eb}{epd}{esd}\GE{eb}{epd}{pand}
\GE{eg}{hd}{asd}\GE{eb}{bd}{hd}\GE{eb}{bd}{cnsd}\GE{eb}{hbd}{bd}
\GE{eg}{ecd2}{celld}\GE{eb}{ecd2}{epid}
\GE{eg}{lcd}{celld}\GE{eb}{lcd}{ld}
\GE{eg}{lecd}{ecd2}\GE{eg}{lecd}{lcd}\GE{eb}{lecd}{led}
\GE{eg}{mesch}{tisd}\GE{eg}{mcd}{celld}\GE{eb}{mcd}{mesch}\GE{eg}{emt}{mcd}
% regulation of development
\GE{ek}{rmop}{mop}\GE{en}{prmop}{mop}\GE{er}{nrmop}{mop}
\GE{eg}{rmop}{rbp}\GE{eg}{prmop}{rmop}\GE{eg}{nrmop}{rmop}\GE{eg}{prmop}{prbp}\GE{eg}{nrmop}{nrbp}
\GE{ek}{rcoag}{coag}\GE{eg}{rcoag}{rmop}
\GE{ek}{rmod}{mod}\GE{eg}{rmod}{rmop}\GE{eg}{rmod}{rdp}
\GE{ek}{red}{ed}\GE{eg}{red}{rmod}
\GE{ek}{rasm}{asm}\GE{eg}{rasm}{rmod}
\GE{en}{pred}{ed}\GE{eg}{pred}{red}\GE{eg}{pred}{prdp}
\GE{ek}{rgast}{gast}\GE{eg}{rgast}{red}
\GE{en}{prgast}{gast}\GE{eg}{prgast}{rgast}\GE{eg}{prgast}{pred}
\GE{eg}{devp}{bp}
\GE{ek}{rdp}{devp}\GE{en}{prdp}{devp}\GE{er}{nrdp}{devp}
\GE{eg}{prdp}{rdp}\GE{eg}{nrdp}{rdp}\GE{eg}{rdp}{rbp}
\GE{eg}{prdp}{prbp}\GE{eg}{nrdp}{nrbp}
% metabolism
\GE{eg}{metp}{bp}\GE{eg}{smmp}{metp}\GE{eg}{osmp}{metp}\GE{eg}{pmp}{metp}\GE{eg}{bsp}{metp}\GE{eg}{ncmp}{metp}\GE{eg}{occmp}{metp}
\GE{eg}{cellmp}{metp}\GE{eg}{cellmp}{cellp}
\GE{ek}{rsmmp}{smmp}\GE{eg}{rsmmp}{rmp}
\GE{eg}{cmp}{osmp}\GE{eg}{cmp}{pmp}\GE{eg}{osbp}{osmp}\GE{eg}{osbp}{bsp}
\GE{eg}{lmp}{pmp}\GE{eg}{lmp}{osmp}\GE{ek}{rpmp}{pmp}\GE{eg}{rpmp}{rmp}
\GE{eg}{msmp}{cmp}\GE{eg}{msmp}{smmp}\GE{ek}{rcmp}{cmp}\GE{eg}{rcmp}{rpmp}
\GE{eg}{mmp}{osmp}\GE{eg}{mmp}{pmp}\GE{eg}{occbp}{occmp}\GE{eg}{occbp}{osbp}
\GE{eg}{stmp}{lmp}\GE{eg}{stmp}{occmp}\GE{ek}{rlmp}{lmp}\GE{eg}{rlmp}{rpmp}
\GE{eg}{hexmp}{msmp}\GE{eg}{mbp}{mmp}\GE{eg}{mbp}{osbp}\GE{eg}{ge}{mmp}
\GE{eg}{nrcmp}{rcmp}\GE{er}{nrcmp}{cmp}\GE{ek}{rstmp}{stmp}\GE{eg}{rstmp}{rlmp}
\GE{eg}{gmp}{hexmp}\GE{ek}{rmbp}{mbp}\GE{eg}{rmbp}{rmmp}\GE{eg}{rmbp}{rbsp}
\GE{ek}{rge}{ge}\GE{eg}{rge}{rmmp}\GE{ek}{rgmp}{gmp}\GE{eg}{rgmp}{rcmp}
\GE{eg}{prmbp}{rmbp}\GE{en}{prmbp}{mbp}\GE{eg}{prmbp}{prmmp}
\GE{eg}{rnabp}{rnamp}\GE{eg}{rnabp}{nbcbp}
\GE{eg}{nat}{rnabp}\GE{eb}{nat}{ge}\GE{eg}{dtt}{nat}
\GE{ek}{rnat}{nat}\GE{eg}{rnat}{rrnabp}
\GE{eg}{t3}{dtt}\GE{eg}{t2}{dtt}\GE{ek}{rdt}{dtt}\GE{eg}{rdt}{rnat}
\GE{eg}{prnat}{rnat}\GE{en}{prnat}{nat}\GE{eg}{prnat}{prrnabp}
\GE{ek}{rt3}{t3}\GE{eg}{rt3}{rdt}\GE{ek}{rt2}{t2}\GE{eg}{rt2}{rdt}
\GE{en}{prdt}{dtt}\GE{eg}{prdt}{rdt}\GE{eg}{prdt}{prnat}\GE{eg}{ccrt}{rdt}
\GE{en}{prt3}{t3}\GE{eg}{prt3}{rt3}\GE{eg}{prt3}{prdt}\GE{eg}{rtg}{rdt}
\GE{en}{prt2}{t2}\GE{eg}{prt2}{rt2}\GE{eg}{prt2}{prdt}
\GE{eg}{ccrp}{ccrt}\GE{eg}{ccrp}{rt2}\GE{eg}{ccat}{ccrt}\GE{eg}{ccat}{prdt}
\GE{eg}{nrtg}{rtg}\GE{eg}{rtpg}{rtg}\GE{eg}{rtpg}{ccrp}\GE{eg}{prtg}{rtg}\GE{eg}{prtg}{ccat}
\GE{eg}{ccap}{ccat}\GE{eg}{ccap}{ccrp}\GE{eg}{ccap}{prt2}
\GE{eg}{nrtpg}{nrtg}\GE{eg}{nrtpg}{rtpg}\GE{eg}{prtpg}{rtpg}\GE{eg}{prtpg}{prtg}\GE{eg}{prtpg}{ccap}
\GE{eg}{nrbp}{rbp}\GE{er}{nrbp}{bp}\GE{ek}{rmp}{metp}\GE{eg}{rmp}{rbp}
\GE{ek}{rbsp}{bsp}\GE{eg}{rbsp}{rmp}
\GE{eg}{nrmp}{rmp}\GE{er}{nrmp}{metp}\GE{eg}{nrmp}{nrbp}
\GE{ek}{rncmp}{ncmp}\GE{eg}{rncmp}{rmp}
\GE{eg}{prmp}{rmp}\GE{en}{prmp}{metp}\GE{eg}{prmp}{prbp}
\GE{eg}{cncmp}{ncmp}\GE{eg}{cncmp}{cellmp}\GE{eg}{cacmp}{cellmp}
\GE{eg}{cbsp}{cellmp}\GE{eg}{cbsp}{bsp}\GE{eg}{hetmp}{cellmp}
\GE{eg}{prbsp}{rbsp}\GE{en}{prbsp}{bsp}\GE{eg}{prbsp}{prmp}
\GE{eg}{prncmp}{rncmp}\GE{en}{prncmp}{ncmp}\GE{eg}{prncmp}{prmp}
\GE{eg}{nbcmp}{cncmp}\GE{eg}{nbcmp}{cacmp}\GE{eg}{nbcmp}{hetmp}\GE{eg}{nbcmp}{occmp}
\GE{ek}{rcbsp}{cbsp}\GE{eg}{rcbsp}{rbsp}\GE{eg}{rcbsp}{rcellmp}
\GE{eg}{rmf}{breg}\GE{eg}{cncbp}{cncmp}\GE{eg}{cncbp}{cbsp}
\GE{eg}{acbp}{cacmp}\GE{eg}{acbp}{cbsp}\GE{eg}{hetbp}{hetmp}\GE{eg}{hetbp}{cbsp}
\GE{ek}{rmmp}{mmp}\GE{eg}{rmmp}{rpmp}\GE{eg}{namp}{nbcmp}\GE{eg}{namp}{mmp}
\GE{ek}{rnbcmp}{nbcmp}\GE{eg}{rnbcmp}{rncmp}\GE{eg}{rnbcmp}{rcellmp}
\GE{eg}{prcbsp}{rcbsp}\GE{en}{prcbsp}{cbsp}\GE{eg}{prcbsp}{prbsp}
\GE{eg}{nrmf}{rmf}\GE{eg}{rca}{rmf}
\GE{eg}{nbcbp}{nbcmp}\GE{eg}{nbcbp}{cncbp}\GE{eg}{nbcbp}{acbp}\GE{eg}{nbcbp}{hetbp}
\GE{eg}{bc}{coag}\GE{eg}{bc}{hemo}
\GE{eg}{prmmp}{rmmp}\GE{en}{prmmp}{mmp}\GE{eg}{rnamp}{namp}
\GE{eg}{prnbcmp}{rnbcmp}\GE{en}{prnbcmp}{nbcmp}\GE{eg}{prnbcmp}{prncmp}
\GE{eg}{nrca}{rca}\GE{eg}{nrca}{nrmf}
\GE{ek}{remt}{emt}\GE{eg}{remt}{rcd}
\GE{eg}{nremt}{remt}\GE{er}{nremt}{emt}\GE{eg}{nremt}{nrcd}
\GE{ek}{rrnamp}{rnamp}\GE{eg}{rrnamp}{rnbcmp}
\GE{eg}{rrnabp}{rrnamp}\GE{ek}{rrnabp}{rnabp}\GE{eg}{rrnabp}{rcbsp}
\GE{eg}{prrnamp}{rrnamp}\GE{en}{prrnamp}{rnamp}\GE{eg}{prrnamp}{prnbcmp}
\GE{eg}{prrnabp}{rrnabp}\GE{eg}{prrnabp}{prrnamp}\GE{en}{prrnabp}{rnabp}
\GE{eg}{dnd}{neud}\GE{ek}{rdnd}{dnd}\GE{eg}{rdnd}{rnd}
\GE{eg}{prdnd}{rdnd}\GE{en}{prdnd}{dnd}\GE{eg}{prdnd}{prnd}
\GE{eg}{rdbtf}{rmf}\GE{eg}{nrdbtf}{rdbtf}\GE{eg}{nrdbtf}{nrmf}
% biological regulation, cell differentiation
\GE{eg}{breg}{bp}\GE{ek}{rbp}{bp}\GE{en}{prbp}{bp}\GE{eg}{rbp}{breg}\GE{eg}{prbp}{rbp}
\GE{eg}{rbq}{breg}\GE{eg}{rbfl}{rbq}\GE{eg}{hemo}{rbfl}\GE{ek}{rhemo}{hemo}\GE{eg}{rhemo}{rbfl}
\GE{ek}{rbc}{bc}\GE{eg}{rbc}{rhemo}\GE{eg}{rbc}{rcoag}
\GE{eg}{rta}{rca}\GE{eg}{nrta}{rta}\GE{eg}{nrta}{nrca}
\GE{eg}{cdp}{cellp}\GE{eg}{cdp}{devp}
\GE{eg}{rcellmp}{rmp}\GE{eg}{rcellmp}{rcp}\GE{ek}{rcellmp}{cellmp}
\GE{eg}{phmp}{cellmp}\GE{eg}{rhl}{rbq}\GE{ek}{rsig}{sig}\GE{eg}{rsig}{rbp}\GE{eg}{sig}{bp}
\GE{eg}{pccmp}{phmp}\GE{ek}{rphmp}{phmp}\GE{eg}{rphmp}{rcellmp}
\GE{eg}{nrcellmp}{rcellmp}\GE{er}{nrcellmp}{cellmp}\GE{eg}{nrcellmp}{nrmp}
\GE{eg}{prcellmp}{rcellmp}\GE{en}{prcellmp}{cellmp}\GE{eg}{prcellmp}{prmp}
\GE{eg}{phos}{pccmp}\GE{ek}{rpmp2}{pccmp}\GE{eg}{rpmp2}{rphmp}
\GE{eg}{nrphmp}{rphmp}\GE{er}{nrphmp}{phmp}\GE{eg}{nrphmp}{nrcellmp}
\GE{ek}{rphos}{phos}\GE{eg}{rphos}{rpmp2}
\GE{eg}{nrpmp2}{rpmp2}\GE{er}{nrpmp2}{pccmp}\GE{eg}{nrpmp2}{nrphmp}
\GE{eg}{rka}{rta}\GE{eg}{rka}{rphos}
\GE{eg}{nrphos}{rphos}\GE{er}{nrphos}{phos}\GE{eg}{nrphos}{nrpmp2}
\GE{eg}{rhka}{rka}\GE{eg}{nrka}{rka}\GE{eg}{nrka}{nrphos}\GE{eg}{nrka}{nrta}
\GE{eg}{rgka}{rhka}\GE{eg}{nrhka}{rhka}\GE{eg}{nrhka}{nrka}
\GE{eg}{nrgka}{rgka}\GE{eg}{nrgka}{nrhka}
\GE{eg}{celld}{cdp}\GE{eg}{celldev}{cdp}\GE{eb}{celldev}{celld}
\GE{eb}{cfc}{celld}\GE{eb}{cfs}{cfc}
\GE{ek}{rcd}{celld}\GE{eg}{rcd}{rdp}
\GE{eg}{nrcd}{rcd}\GE{er}{nrcd}{celld}\GE{eg}{nrcd}{nrdp}
\GE{eg}{prcd}{rcd}\GE{en}{prcd}{celld}\GE{eg}{prcd}{prdp}
\GE{eg}{neurog}{cdp}\GE{eb}{neurog}{nsd}\GE{eg}{gon}{neurog}\GE{eg}{gon}{celld}
\GE{eb}{neud}{gon}\GE{eg}{neud}{celld}\GE{eg}{cdh}{celld}\GE{eb}{cdh}{hbd}
\GE{eg}{nfc}{cfc}\GE{eb}{nfc}{neud}\GE{eb}{nfs}{nfc}\GE{eg}{nfs}{cfs}
\GE{eg}{rnd}{rcd}\GE{ek}{rnd}{neud}
\GE{eg}{nrnd}{rnd}\GE{er}{nrnd}{neud}\GE{eg}{nrnd}{nrcd}
\GE{eg}{prnd}{rnd}\GE{en}{prnd}{neud}\GE{eg}{prnd}{prcd}
\GE{eg}{strge}{st}\GE{eg}{strge}{rge}
% response to stimulus
\GE{eg}{rstim}{bp}\GE{eg}{cellp}{bp}
\GE{eg}{rstr}{rstim}\GE{ek}{rrs}{rstim}\GE{eg}{rrs}{rbp}\GE{eg}{res}{rstim}\GE{eg}{rchem}{rstim}
\GE{eg}{crs}{rstim}\GE{eg}{crs}{cellp}\GE{ek}{rcp}{cellp}\GE{eg}{rcp}{rbp}\GE{eg}{ccom}{cellp}
\GE{eg}{rtw}{rstr}\GE{ek}{rrstr}{rstr}\GE{eg}{rrstr}{rrs}\GE{ek}{rres}{res}\GE{eg}{rres}{rrs}
\GE{eg}{rexs}{res}\GE{eg}{prrs}{rrs}\GE{en}{prrs}{rstim}\GE{eg}{prrs}{prbp}
\GE{eg}{cres}{res}\GE{eg}{cres}{crs}\GE{eg}{rocc}{rchem}\GE{eg}{ros}{rchem}\GE{eg}{ris}{rchem}
\GE{eg}{nrcp}{rcp}\GE{er}{nrcp}{cellp}\GE{eg}{nrcp}{nrbp}
\GE{eg}{crcs}{crs}\GE{eg}{crcs}{rchem}
\GE{eg}{prcp}{rcp}\GE{en}{prcp}{cellp}\GE{eg}{prcp}{prbp}
\GE{eb}{st}{crs}\GE{eb}{st}{ccom}\GE{eg}{st}{sig}
\GE{ek}{rst}{st}\GE{eg}{rst}{rsig}\GE{eg}{rst}{rcc}
\GE{en}{prst}{st}\GE{eg}{prst}{rst}\GE{eg}{prst}{prsig}\GE{eg}{prst}{prcc}
\GE{eg}{prsig}{rsig}\GE{en}{prsig}{sig}
\GE{eb}{wh}{rtw}\GE{ek}{rrw}{rtw}\GE{eg}{rrw}{rrstr}\GE{ek}{rwh}{wh}\GE{eg}{rwh}{rrw}
\GE{eg}{rnl}{rexs}\GE{eg}{cress}{rexs}\GE{eg}{cress}{cres}
\GE{eg}{rcarb}{rocc}\GE{eg}{rcarb}{ros}\GE{eg}{rcyt}{ros}\GE{eg}{rmi}{ris}
\GE{eg}{crocc}{rocc}\GE{eg}{crocc}{crcs}\GE{eg}{cros}{ros}\GE{eg}{cros}{crcs}
\GE{eg}{cris}{ris}\GE{eg}{cris}{crcs}
\GE{eg}{rnut}{rnl}\GE{eg}{crnl}{rnl}\GE{eg}{crnl}{cress}
\GE{eg}{rmono}{rcarb}\GE{eg}{ril6}{rcyt}\GE{eg}{rcad}{rmi}
\GE{eg}{crcarb}{rcarb}\GE{eg}{crcarb}{crocc}\GE{eg}{crcarb}{cros}
\GE{eg}{crmi}{rmi}\GE{eg}{crmi}{cris}\GE{eg}{crnut}{rnut}\GE{eg}{crnut}{crnl}
\GE{eg}{rhex}{rmono}\GE{eg}{crmono}{rmono}\GE{eg}{crmono}{crcarb}
\GE{eg}{crcad}{rcad}\GE{eg}{crcad}{crmi}
\GE{eb}{cms}{crcarb}\GE{eg}{cms}{st}
\GE{eg}{crhex}{rhex}\GE{eg}{crhex}{crmono}\GE{eg}{rglu}{rhex}\GE{eg}{smsp}{cms}
\GE{eb}{hms}{crhex}\GE{eg}{hms}{smsp}\GE{eg}{crglu}{rglu}\GE{eg}{crglu}{crhex}
\GE{eg}{gmsp}{hms}\GE{eb}{gmsp}{crglu}
% localization
\GE{eg}{homeo}{bp}\GE{eg}{loc}{bp}\GE{eg}{chemh}{homeo}\GE{eg}{cellh}{homeo}
\GE{eg}{mloc}{loc}\GE{eg}{eloc}{loc}\GE{eg}{ccob}{cellp}
\GE{ek}{rloc}{loc}\GE{eg}{rloc}{rbp}
\GE{eg}{carbh}{chemh}\GE{eg}{icch}{chemh}\GE{eg}{icch}{cellh}
\GE{eg}{cloc}{loc}\GE{eg}{transp}{eloc}
\GE{ek}{rcc}{ccom}\GE{eg}{rcc}{rcp}\GE{eg}{ccs}{ccom}\GE{eg}{cco}{ccob}
\GE{ek}{rcloc}{cloc}\GE{eg}{rcloc}{rloc}\GE{eg}{gh}{carbh}
\GE{eg}{cmloc}{cloc}\GE{eg}{cmloc}{mloc}\GE{eg}{efc}{eloc}
\GE{ek}{rtr}{transp}\GE{eg}{rtr}{rloc}\GE{eg}{elc}{eloc}\GE{eb}{elc}{cloc}
\GE{eg}{secr}{transp}\GE{eg}{nct}{transp}
\GE{eg}{prcc}{rcc}\GE{en}{prcc}{ccom}\GE{eg}{csrsp}{st}\GE{eg}{ht}{transp}
\GE{eg}{chro}{cco}\GE{eg}{igh}{icch}\GE{eg}{igh}{gh}\GE{eg}{ploc}{mloc}
\GE{eg}{sbc}{efc}\GE{eg}{sbc}{secr}\GE{ek}{rsec}{secr}\GE{eg}{rsec}{rtr}
\GE{eg}{ost}{transp}\GE{eg}{amt}{nct}\GE{eg}{ssp}{csrsp}\GE{eg}{nsp}{csrsp}
\GE{eb}{srel}{ccs}\GE{eg}{srel}{sbc}
\GE{ek}{rploc}{ploc}\GE{eg}{rploc}{rcloc}\GE{eg}{pler}{ploc}
\GE{eg}{epl}{ploc}\GE{eg}{epl}{elc}\GE{ek}{rsbc}{sbc}\GE{eg}{rsbc}{rsec}
\GE{eg}{pept}{amt}\GE{eg}{pept}{ost}\GE{ek}{rssp}{ssp}\GE{eg}{rssp}{rst}
\GE{eg}{hs}{ht}\GE{eg}{hs}{srel}\GE{ek}{repl}{epl}\GE{eg}{repl}{rploc}
\GE{eg}{eplr}{pler}\GE{eg}{eplr}{epl}\GE{eg}{pt}{epl}\GE{eg}{pt}{ost}
\GE{ek}{rpt}{pept}\GE{eg}{rpt}{rtr}\GE{eg}{ps}{pept}\GE{eg}{ps}{sbc}
\GE{eg}{prssp}{rssp}\GE{en}{prssp}{ssp}\GE{eg}{prssp}{prst}
\GE{ek}{rhs}{hs}\GE{eg}{rhs}{rsec}\GE{ek}{rprt}{pt}\GE{eg}{rprt}{repl}
\GE{eg}{psec}{pt}\GE{eg}{psec}{sbc}\GE{eg}{phs}{ps}\GE{eg}{phs}{hs}
\GE{ek}{rps}{ps}\GE{eg}{rps}{rpt}\GE{ek}{rpsec}{psec}\GE{eg}{rpsec}{rprt}
\GE{eg}{ins}{phs}\GE{eg}{ins}{psec}
\GE{ek}{rphs}{phs}\GE{eg}{rphs}{rps}\GE{eg}{rphs}{rhs}
\GE{ek}{ris2}{ins}\GE{eg}{ris2}{rphs}\GE{eg}{ris2}{rpsec}
\GE{eg}{isgs}{ins}\GE{eb}{isgs}{crglu}
\GE{eg}{risgs}{ris2}\GE{ek}{risgs}{isgs}
\end{pgfonlayer}
\end{tikzpicture}
\end{document}
